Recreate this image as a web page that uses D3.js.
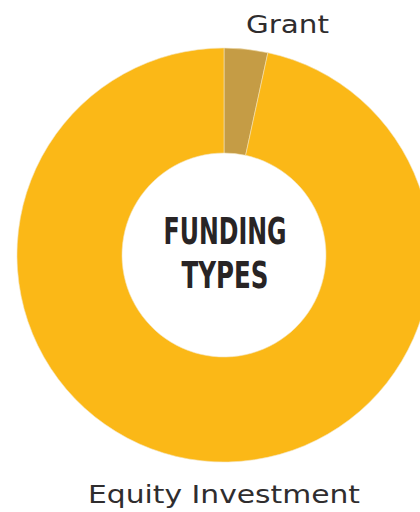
<!DOCTYPE html>
<html>
<head>
<meta charset="utf-8">
<script src="https://cdn.jsdelivr.net/npm/d3@7"></script>
<style>
  html, body { margin: 0; padding: 0; background: #fff; overflow: hidden; }
  svg { display: block; }
</style>
</head>
<body>
<svg id="chart" width="420" height="512"></svg>
<script>
// Funding split by type (share of total, %)
const categories = ["Grant", "Equity Investment"];
const shares = [3.4, 96.6];
const colors = ["#C59C45", "#FBB817"];
const centerTitle = ["FUNDING", "TYPES"];

const svg = d3.select("#chart");
const cx = 224, cy = 255;
const outerR = 207, innerR = 102;

const pie = d3.pie().sort(null).value(d => d.value);
const arcs = pie(categories.map((c, i) => ({ name: c, value: shares[i] })));
const arc = d3.arc().innerRadius(innerR).outerRadius(outerR);
const color = d3.scaleOrdinal().domain(categories).range(colors);

const g = svg.append("g").attr("transform", `translate(${cx},${cy})`);
g.selectAll("path")
  .data(arcs)
  .join("path")
  .attr("d", arc)
  .attr("fill", d => color(d.data.name))
  .attr("stroke", "#f3e3b8")
  .attr("stroke-width", 0.6);

// Category labels
const labelFont = "'DejaVu Sans', sans-serif";
svg.append("text")
  .attr("x", 246).attr("y", 33)
  .attr("font-family", labelFont)
  .attr("font-size", 24)
  .attr("fill", "#2f2d2e")
  .attr("textLength", 83)
  .attr("lengthAdjust", "spacingAndGlyphs")
  .text(categories[0]);

svg.append("text")
  .attr("x", 88).attr("y", 503)
  .attr("font-family", labelFont)
  .attr("font-size", 24)
  .attr("fill", "#2f2d2e")
  .attr("textLength", 272)
  .attr("lengthAdjust", "spacingAndGlyphs")
  .text(categories[1]);

// Center title, two lines
const titleFont = "'DejaVu Sans Condensed', 'Liberation Sans Narrow', 'DejaVu Sans', sans-serif";
const titleRows = [
  { y: 244, width: 123 },
  { y: 288, width: 87 }
];
centerTitle.forEach((t, i) => {
  svg.append("text")
    .attr("x", cx + 1).attr("y", titleRows[i].y)
    .attr("text-anchor", "middle")
    .attr("font-family", titleFont)
    .attr("font-weight", 700)
    .attr("font-size", 37)
    .attr("fill", "#282425")
    .attr("textLength", titleRows[i].width)
    .attr("lengthAdjust", "spacingAndGlyphs")
    .text(t);
});
</script>
</body>
</html>
